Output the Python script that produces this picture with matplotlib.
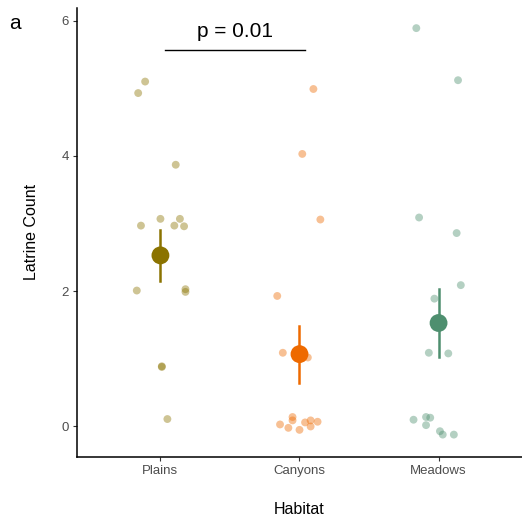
import numpy as np
from matplotlib import pyplot as plt

plt.rcParams['font.family'] = ['Liberation Sans', 'DejaVu Sans']

habitats = ["Plains", "Canyons", "Meadows"]
colors = ["#8B7300", "#EE6A00", "#4E8F6F"]

# jittered raw points (x offset from category centre, y value)
plains_dx = [-0.11, -0.16, 0.11, 0.00, 0.14, -0.14, 0.10, 0.17, -0.17, 0.18, 0.18, 0.01, 0.01, 0.05]
plains_y = [5.10, 4.93, 3.87, 3.07, 3.07, 2.97, 2.97, 2.96, 2.01, 2.03, 1.99, 0.88, 0.89, 0.11]
canyons_dx = [0.10, 0.02, 0.15, -0.16, -0.12, 0.06, -0.05, -0.05, -0.14, -0.08, 0.00, 0.04, 0.08, 0.08, 0.13]
canyons_y = [4.99, 4.03, 3.06, 1.93, 1.09, 1.02, 0.14, 0.09, 0.03, -0.02, -0.05, 0.06, 0.09, 0.00, 0.07]
meadows_dx = [-0.16, 0.14, -0.14, 0.13, 0.16, -0.03, -0.07, 0.07, -0.18, -0.09, -0.06, -0.09, 0.01, 0.03, 0.11]
meadows_y = [5.89, 5.12, 3.09, 2.86, 2.09, 1.89, 1.09, 1.08, 0.10, 0.14, 0.13, 0.02, -0.07, -0.12, -0.12]

means = [2.53, 1.07, 1.53]
lower = [2.15, 0.64, 1.03]
upper = [2.90, 1.49, 2.03]

p_text = "p = 0.01"

fig = plt.figure(figsize=(5.22, 5.23), dpi=100)
ax = fig.add_axes([0.1475, 0.127, 0.8525, 0.858])

raw = [(plains_dx, plains_y), (canyons_dx, canyons_y), (meadows_dx, meadows_y)]
for i, (dx, yy) in enumerate(raw):
    xs = np.array(dx) + i + 1
    ax.scatter(xs, yy, s=32, color=colors[i], alpha=0.42, edgecolors='none', zorder=2)

for i in range(3):
    ax.plot([i + 1, i + 1], [lower[i], upper[i]], color=colors[i], lw=1.8, zorder=3)
    ax.scatter([i + 1], [means[i]], s=165, color=colors[i], edgecolors='none', zorder=4)

# significance bar
ax.plot([1.03, 2.04], [5.57, 5.57], color='black', lw=1)
ax.text(1.535, 5.70, p_text, ha='center', va='bottom', fontsize=15)

ax.set_xlim(0.4, 3.6)
ax.set_ylim(-0.445, 6.19)
ax.set_xticks([1, 2, 3])
ax.set_xticklabels(habitats)
ax.set_yticks([0, 2, 4, 6])

for s in ['top', 'right']:
    ax.spines[s].set_visible(False)
for s in ['left', 'bottom']:
    ax.spines[s].set_linewidth(1.1)
ax.tick_params(axis='both', length=3, width=0.8, color='#333333', labelcolor='#4d4d4d', labelsize=9.5, pad=3)

ax.set_xlabel("Habitat", fontsize=11.5, labelpad=18)
ax.set_ylabel("Latrine Count", fontsize=11.5, labelpad=16)

fig.text(0.018, 0.945, "a", fontsize=15)

plt.savefig("out.png", dpi=100)
plt.close()
